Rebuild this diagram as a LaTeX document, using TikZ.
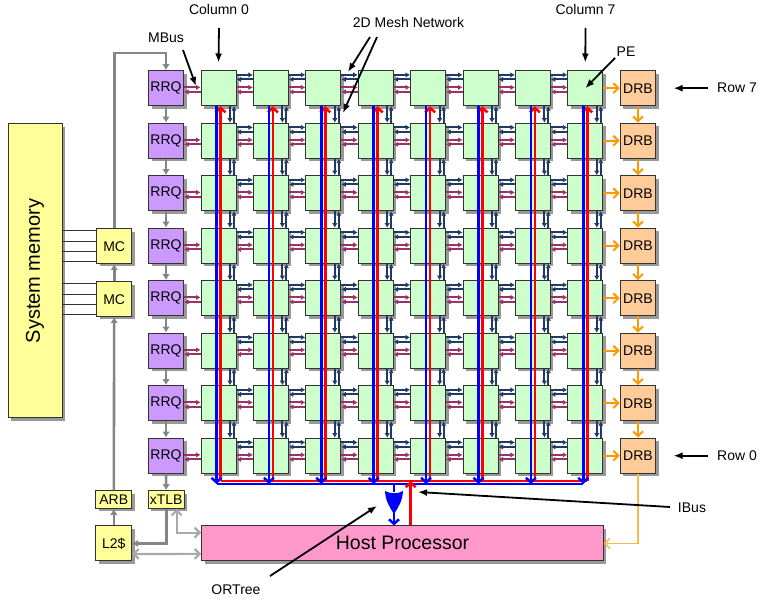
\documentclass[tikz,border=0pt]{standalone}
\usepackage{fontspec}
\setmainfont{Liberation Sans}
\usetikzlibrary{arrows.meta,shadows,calc}
\definecolor{pegreen}{HTML}{CCFFCC}
\definecolor{rrqpurple}{HTML}{CC99FF}
\definecolor{drborange}{HTML}{FFCC99}
\definecolor{memyellow}{HTML}{FFFF99}
\definecolor{hostpink}{HTML}{FF99CC}
\definecolor{navy}{HTML}{1F3A64}
\definecolor{maroon}{HTML}{993366}
\definecolor{orangeline}{HTML}{FF9900}
\definecolor{lightorange}{HTML}{FFB84D}
\definecolor{darkgrayline}{HTML}{858585}
\definecolor{lightgrayline}{HTML}{AAAAAA}
\begin{document}
\begin{tikzpicture}[x=1pt,y=-1pt,font=\fontsize{14}{16}\selectfont,
  box/.style={draw=black!80,line width=1pt,inner sep=0pt,
    general shadow={fill=black!40,shadow xshift=3pt,shadow yshift=-3pt}},
  pe/.style={box,fill=pegreen,minimum width=35pt,minimum height=35pt},
  rrq/.style={box,fill=rrqpurple,minimum width=35pt,minimum height=35pt},
  drb/.style={box,fill=drborange,minimum width=35.5pt,minimum height=35pt},
  ybox/.style={box,fill=memyellow},
  nlink/.style={draw=navy,line width=2.1pt},
  mlink/.style={draw=maroon,line width=2.1pt},
  ltip/.tip={Latex[length=4.5pt,width=5.5pt]},
  bline/.style={draw=blue,line width=2.5pt},
  rline/.style={draw=red,line width=2.5pt},
  gline/.style={draw=darkgrayline,line width=2.6pt,-{Latex[length=6pt,width=7.5pt]}},
  lgline/.style={draw=lightgrayline,line width=2.2pt},
  oline/.style={draw=orangeline,line width=2pt,-{Straight Barb[length=5pt,width=10pt]}},
  larrow/.style={draw=black,line width=1.8pt,-{Latex[length=9pt,width=7pt]}},
  lbl/.style={inner sep=0pt}]
\useasboundingbox (0,0) rectangle (761,601);

% system memory and memory controllers
\node[ybox,minimum width=54pt,minimum height=294pt] (mem) at (35,271) {};
\node[rotate=90] (memtxt) at (mem.center) {\fontsize{20}{22}\selectfont System memory};
\node[ybox,minimum width=35pt,minimum height=34.5pt] (mc1) at (114.2,246.2) {MC};
\node[ybox,minimum width=35pt,minimum height=34.5pt] (mc2) at (114.2,299.2) {MC};
\foreach \s in {15.5,5.2,-5.5,-15.5}{
  \draw[black!80,line width=0.9pt] ($(mem.east|-mc1.west)+(0,-\s)$) -- ($(mc1.west)+(0,-\s)$);
  \draw[black!80,line width=0.9pt] ($(mem.east|-mc2.west)+(0,-\s)$) -- ($(mc2.west)+(0,-\s)$);
}
\node[ybox,minimum width=35.7pt,minimum height=17.6pt] (arb) at (113.8,499.5) {ARB};
\node[ybox,minimum width=35.7pt,minimum height=17.6pt] (xtlb) at (166.2,499.5) {xTLB};
\node[ybox,minimum width=35.7pt,minimum height=35pt] (l2) at (113.8,543.5) {L2\$};
\node[box,fill=hostpink,minimum width=401.6pt,minimum height=34.7pt] (host) at (402.5,543.35) {\fontsize{19.5}{22}\selectfont Host Processor};

% PEs, RRQs, DRBs
\foreach \r in {0,...,7}{
  \node[rrq] (q\r) at (166,{88.2+52.5*(7-\r)}) {RRQ};
  \node[drb] (d\r) at (638,{88.2+52.5*(7-\r)}) {DRB};
  \foreach \i in {0,...,7}{
    \node[pe] (p\i\r) at ({218.5+52.4*\i},{88.2+52.5*(7-\r)}) {};
  }
}

% mesh links
\foreach \r in {0,...,7}{
  \draw[mlink,-ltip] ([yshift=0.8pt]q\r.east) -- ([yshift=0.8pt]p0\r.west);
  \draw[mlink,ltip-] ([yshift=-3.7pt]q\r.east) -- ([yshift=-3.7pt]p0\r.west);
  \foreach \i [evaluate=\i as \j using int(\i+1)] in {0,...,6}{
    \draw[nlink,-ltip] ([yshift=13.3pt]p\i\r.east) -- ([yshift=13.3pt]p\j\r.west);
    \draw[nlink,ltip-] ([yshift=8.8pt]p\i\r.east) -- ([yshift=8.8pt]p\j\r.west);
    \draw[mlink,-ltip] ([yshift=0.8pt]p\i\r.east) -- ([yshift=0.8pt]p\j\r.west);
    \draw[mlink,ltip-] ([yshift=-3.7pt]p\i\r.east) -- ([yshift=-3.7pt]p\j\r.west);
  }
}
\foreach \i in {0,...,7}{
  \foreach \r [evaluate=\r as \s using int(\r-1)] in {1,...,7}{
    \draw[nlink,-ltip] ([xshift=11.5pt]p\i\r.south) -- ([xshift=11.5pt]p\i\s.north);
    \draw[nlink,ltip-] ([xshift=15.5pt]p\i\r.south) -- ([xshift=15.5pt]p\i\s.north);
  }
}

% red / blue column buses
\foreach \i in {0,...,7}{
  \coordinate (bb\i) at ({216.5+52.4*\i},484);
  \coordinate (rb\i) at ({220.5+52.4*\i},481);
}
\draw[red,line width=1.4pt] (rb0) -- (rb7);
\draw[blue,line width=1.4pt] (bb0) -- (bb7);
\foreach \i in {0,...,7}{
  \draw[rline,-{Straight Barb[length=4.5pt,width=10pt]}] (rb\i) -- ([xshift=2pt]p\i7.south);
  \draw[bline,-{Straight Barb[length=4.5pt,width=10pt]}] ([xshift=-2pt]p\i7.south) -- (bb\i);
}

% OR tree and IBus
\coordinate (orin) at (394,484);
\coordinate (orgt) at (394,492);
\coordinate (orout) at (394,511);
\draw[bline] (orin) -- (orgt);
\fill[blue] (385,491) .. controls (390,494) and (398,494) .. (403,491)
  .. controls (402.5,501) and (398.5,507) .. (394,514)
  .. controls (389.5,507) and (385.5,501) .. (385,491) -- cycle;
\draw[bline,-{Straight Barb[length=4.5pt,width=10pt]}] (orout) -- ([xshift=-8.5pt]host.north);
\coordinate (ibus) at (410.7,481);
\draw[rline,-{Straight Barb[length=4.5pt,width=10pt]}] ([xshift=8.2pt]host.north) -- (ibus);

% DRB chain
\foreach \r [evaluate=\r as \s using int(\r-1)] in {1,...,7}{
  \draw[oline] (d\r.south) -- (d\s.north);
}
\foreach \r in {0,...,7}{
  \draw[oline] (p7\r.east) -- (d\r.west);
}
\draw[draw=lightorange,line width=1.6pt,-{Straight Barb[length=5pt,width=10pt]}] (d0.south) |- (host.east);

% MBus / gray links
\coordinate (mbus) at (166,53);
\draw[gline] (mc1.north) |- (mbus) -- (q7.north);
\foreach \r [evaluate=\r as \s using int(\r-1)] in {1,...,7}{
  \draw[gline] (q\r.south) -- (q\s.north);
}
\draw[gline] (q0.south) -- (xtlb.north);
\draw[gline] (mc2.north) -- (mc1.south);
\draw[gline] (arb.north) -- (mc2.south);
\draw[gline] (l2.north) -- (arb.south);
\draw[gline] (xtlb.south) |- (l2.east);
\draw[lgline,{Straight Barb[length=5pt,width=10pt]}-{Straight Barb[length=5pt,width=10pt]}] ([xshift=10.5pt]xtlb.south) |- ([yshift=10.7pt]host.west);
\draw[lgline,{Straight Barb[length=5pt,width=10pt]}-{Straight Barb[length=5pt,width=10pt]}] ([yshift=-10.5pt]l2.east) -- ([yshift=-10.5pt]host.west);

% labels
\node[lbl] (col0) at (219,10) {Column 0};
\node[lbl] (col7) at (585.5,10) {Column 7};
\node[lbl] (mesh) at (408.5,23) {2D Mesh Network};
\node[lbl] (mbusl) at (166,38) {MBus};
\node[lbl] (pel) at (626,52) {PE};
\node[lbl] (row7) at (737,88.2) {Row 7};
\node[lbl] (row0) at (737,455.7) {Row 0};
\node[lbl] (ibusl) at (692,508) {IBus};
\node[lbl] (ortl) at (236,590) {ORTree};

\coordinate (c0a) at (219,28);
\coordinate (c7a) at (585.5,28);
\coordinate (ma1) at (370,37);
\coordinate (ma2) at (377,37);
\coordinate (mt1) at (348,72);
\coordinate (mt2) at (343,113);
\coordinate (mba) at (183,50);
\coordinate (mbt) at (196,86);
\coordinate (pea) at (615,58);
\coordinate (r7a) at (708,88.2);
\coordinate (r0a) at (708,455.7);
\coordinate (iba) at (670,507);
\coordinate (ibt) at (418,492);
\coordinate (ora) at (270,576);
\coordinate (ort) at (377,506);
\draw[larrow] (c0a) -- ([yshift=7.7pt]p07.north);
\draw[larrow] (c7a) -- ([yshift=7.7pt]p77.north);
\draw[larrow] (ma1) -- (mt1);
\draw[larrow] (ma2) -- (mt2);
\draw[larrow] (mba) -- (mbt);
\draw[larrow] (pea) -- (p77.center);
\draw[larrow] (r7a) -- ([xshift=17.3pt]d7.east);
\draw[larrow] (r0a) -- ([xshift=17.3pt]d0.east);
\draw[larrow] (iba) -- (ibt);
\draw[larrow] (ora) -- (ort);
\end{tikzpicture}
\end{document}
